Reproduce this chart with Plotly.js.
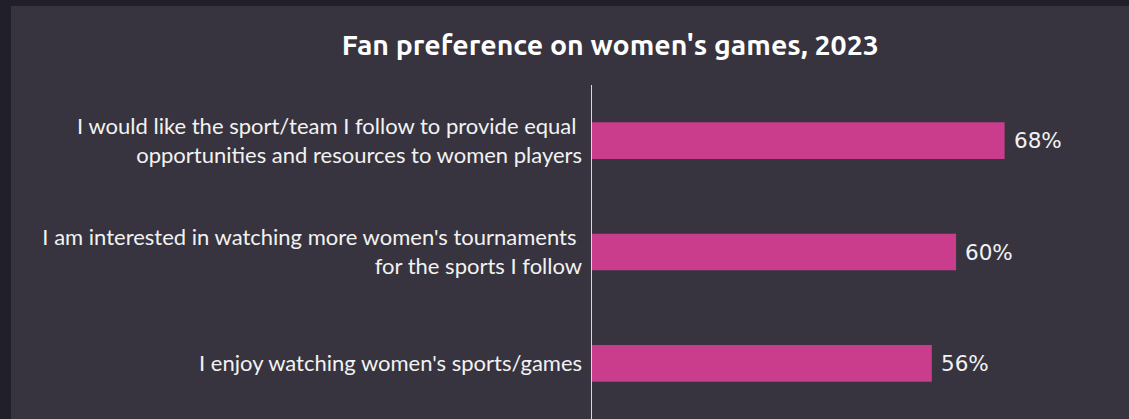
<!DOCTYPE html>
<html>
<head>
<meta charset="utf-8">
<script src="https://cdn.plot.ly/plotly-3.0.1.min.js"></script>
<style>
html,body{margin:0;padding:0;background:#211f2a;width:1129px;height:419px;overflow:hidden;}
#chart{position:absolute;left:11px;top:6px;width:1118px;height:413px;}
</style>
</head>
<body>
<div id="chart"></div>
<script>
const categories = [
  "I enjoy watching women's sports/games",
  "I am interested in watching more women's tournaments <br>for the sports I follow",
  "I would like the sport/team I follow to provide equal <br>opportunities and resources to women players"
];
const values = [56, 60, 68];
const valueLabels = ["56%", "60%", "68%"];

const trace = {
  type: 'bar',
  orientation: 'h',
  y: categories,
  x: values,
  width: 0.33,
  marker: {color: '#c93d8c'},
  hoverinfo: 'skip'
};

const annotations = values.map((v, i) => ({
  x: v, y: categories[i], xref: 'x', yref: 'y',
  text: valueLabels[i], showarrow: false,
  xanchor: 'left', xshift: 7,
  font: {family: 'DejaVu Sans, sans-serif', size: 21.5, color: '#f2f2f2'}
}));

const layout = {
  width: 1118, height: 413,
  paper_bgcolor: '#37343f',
  plot_bgcolor: '#37343f',
  margin: {l: 581, r: 0, t: 79, b: 0, pad: 0},
  title: {
    text: "Fan preference on women's games, 2023",
    x: 0.536, xref: 'container', xanchor: 'center',
    y: 0.905, yref: 'container', yanchor: 'middle',
    font: {family: 'Ubuntu, Open Sans, sans-serif', size: 28.5, weight: 'bold', color: '#ffffff'}
  },
  xaxis: {
    range: [0, 88.5], visible: false, showgrid: false, zeroline: false, fixedrange: true
  },
  yaxis: {
    showline: true, linecolor: '#d8d8d8', linewidth: 1.5,
    showgrid: false, zeroline: false, ticks: '', ticklen: 0,
    automargin: false, ticklabelstandoff: 4,
    tickfont: {family: 'Lato, sans-serif', size: 22, color: '#f2f2f2'},
    range: [-0.5, 2.5]
  },
  annotations: annotations,
  showlegend: false
};

Plotly.newPlot('chart', [trace], layout, {displayModeBar: false, staticPlot: true});
</script>
</body>
</html>
